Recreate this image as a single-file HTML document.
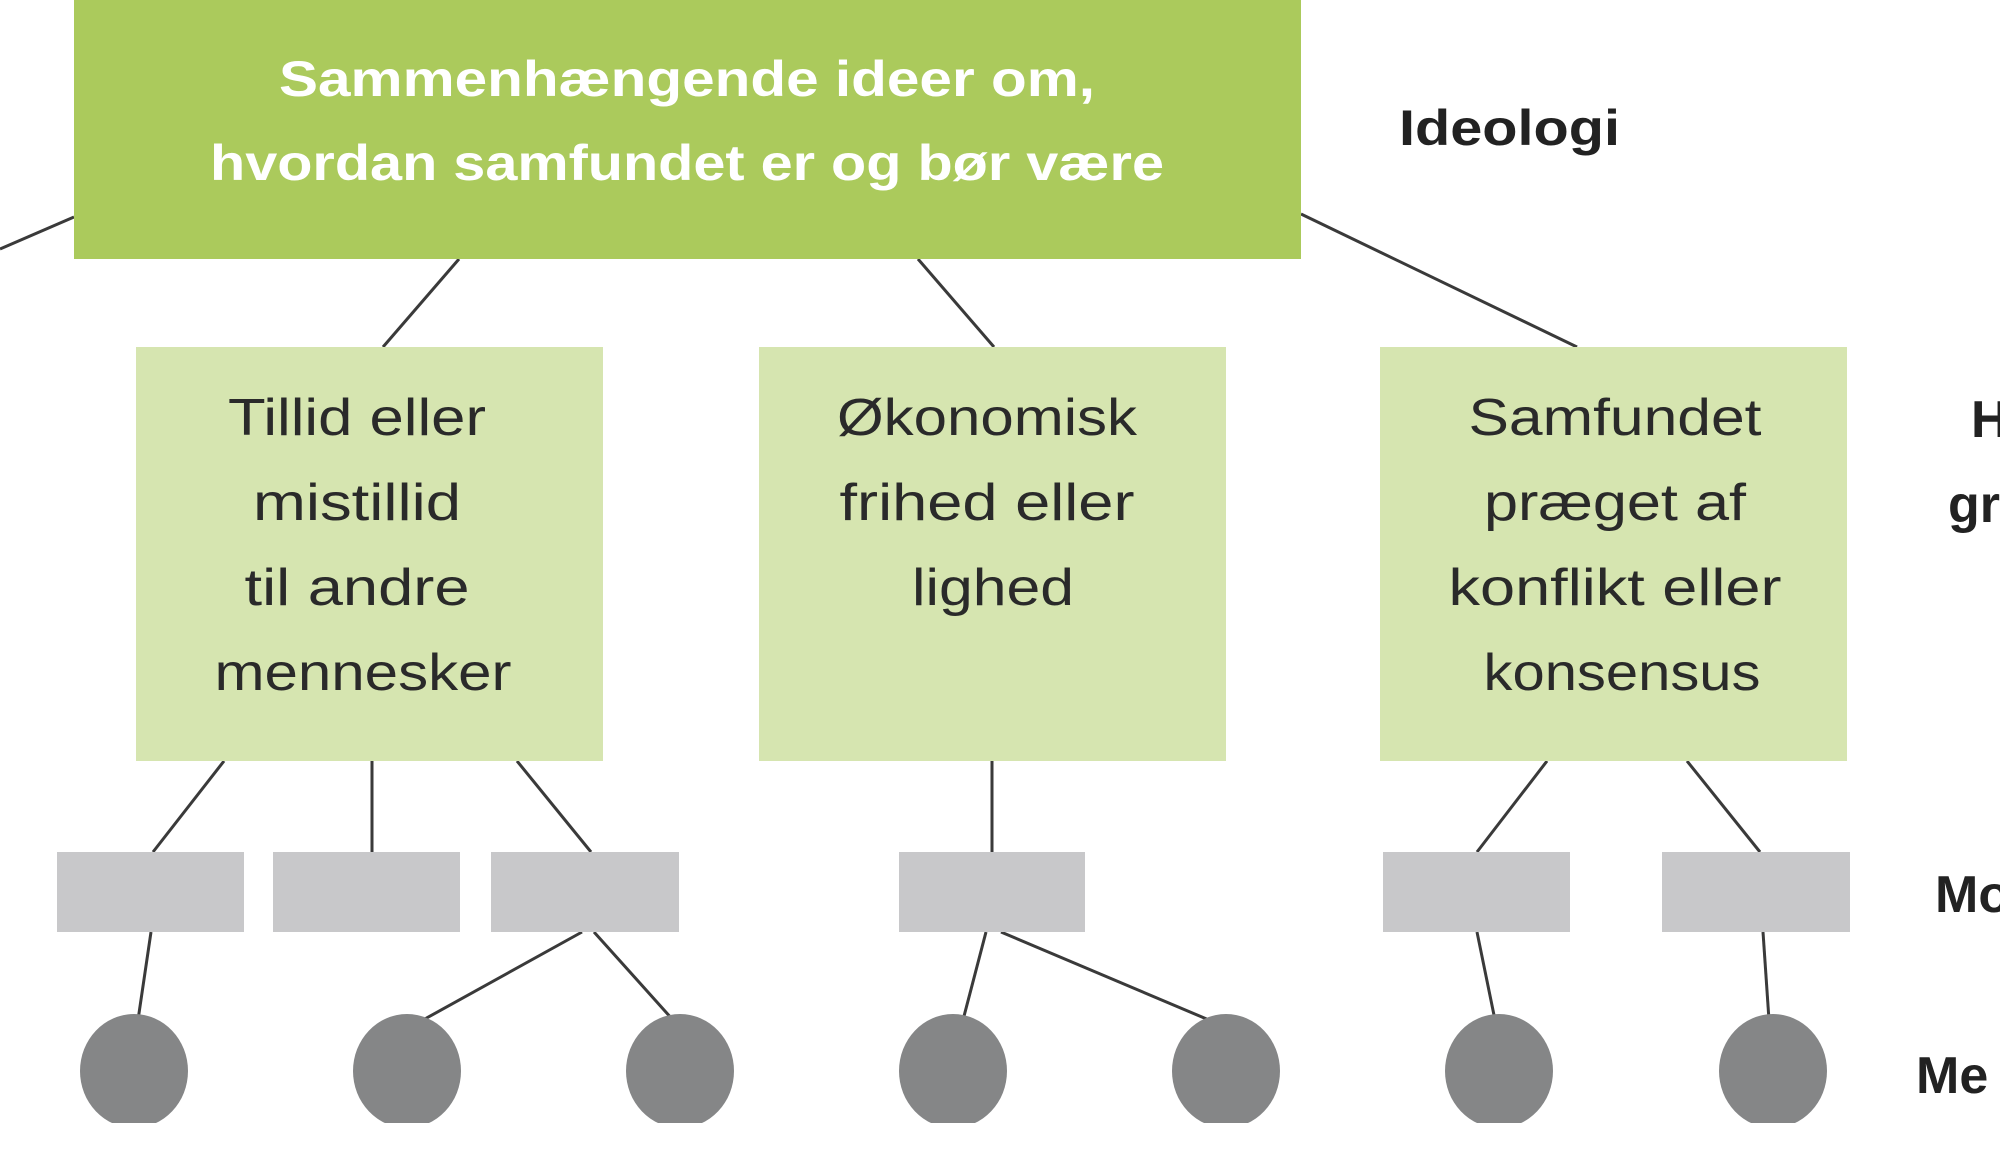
<!DOCTYPE html>
<html><head><meta charset="utf-8"><style>
html,body{margin:0;padding:0;background:#fff;width:2000px;height:1165px;overflow:hidden}
svg{display:block}
text{font-family:"Liberation Sans",sans-serif}
</style></head><body>
<svg width="2000" height="1165" viewBox="0 0 2000 1165" xmlns="http://www.w3.org/2000/svg">
<g stroke="#3a3a3a" stroke-width="3" fill="none">
<line x1="0" y1="249" x2="74" y2="217"/>
<line x1="459" y1="259" x2="383" y2="347"/>
<line x1="918" y1="259" x2="994" y2="347"/>
<line x1="1301" y1="214" x2="1577" y2="347"/>
<line x1="224" y1="761" x2="153" y2="852"/>
<line x1="372" y1="761" x2="372" y2="852"/>
<line x1="517" y1="761" x2="591" y2="852"/>
<line x1="992" y1="761" x2="992" y2="852"/>
<line x1="1547" y1="761" x2="1477" y2="852"/>
<line x1="1687" y1="761" x2="1760" y2="852"/>
<line x1="151" y1="932" x2="138" y2="1020"/>
<line x1="582" y1="932" x2="423" y2="1020"/>
<line x1="594" y1="932" x2="673" y2="1020"/>
<line x1="986" y1="932" x2="963" y2="1020"/>
<line x1="1001" y1="932" x2="1209" y2="1020"/>
<line x1="1477" y1="932" x2="1495" y2="1020"/>
<line x1="1763" y1="932" x2="1769" y2="1020"/>
</g>
<rect x="74" y="0" width="1227" height="259" fill="#abca5c"/>
<text x="687" y="96" font-size="50" font-weight="bold" fill="#fff" text-anchor="middle" textLength="816" lengthAdjust="spacingAndGlyphs">Sammenhængende ideer om,</text>
<text x="687" y="180" font-size="50" font-weight="bold" fill="#fff" text-anchor="middle" textLength="954" lengthAdjust="spacingAndGlyphs">hvordan samfundet er og bør være</text>
<text x="1399" y="145" font-size="50" font-weight="bold" fill="#222" textLength="221" lengthAdjust="spacingAndGlyphs">Ideologi</text>
<g fill="#d6e5b0">
<rect x="136" y="347" width="467" height="414"/>
<rect x="759" y="347" width="467" height="414"/>
<rect x="1380" y="347" width="467" height="414"/>
</g>
<g font-size="52" fill="#2a2a2a" text-anchor="middle">
<text x="357" y="435" textLength="258" lengthAdjust="spacingAndGlyphs">Tillid eller</text>
<text x="357" y="520" textLength="208" lengthAdjust="spacingAndGlyphs">mistillid</text>
<text x="357" y="605" textLength="225" lengthAdjust="spacingAndGlyphs">til andre</text>
<text x="363" y="690" textLength="297" lengthAdjust="spacingAndGlyphs">mennesker</text>
<text x="987" y="435" textLength="300" lengthAdjust="spacingAndGlyphs">Økonomisk</text>
<text x="987" y="520" textLength="295" lengthAdjust="spacingAndGlyphs">frihed eller</text>
<text x="993" y="605" textLength="162" lengthAdjust="spacingAndGlyphs">lighed</text>
<text x="1615" y="435" textLength="293" lengthAdjust="spacingAndGlyphs">Samfundet</text>
<text x="1615" y="520" textLength="262" lengthAdjust="spacingAndGlyphs">præget af</text>
<text x="1615" y="605" textLength="333" lengthAdjust="spacingAndGlyphs">konflikt eller</text>
<text x="1622" y="690" textLength="277" lengthAdjust="spacingAndGlyphs">konsensus</text>
</g>
<g fill="#c8c8ca">
<rect x="57" y="852" width="187" height="80"/>
<rect x="273" y="852" width="187" height="80"/>
<rect x="491" y="852" width="188" height="80"/>
<rect x="899" y="852" width="186" height="80"/>
<rect x="1383" y="852" width="187" height="80"/>
<rect x="1662" y="852" width="188" height="80"/>
</g>
<g fill="#858687">
<ellipse cx="134" cy="1071" rx="54" ry="57"/>
<ellipse cx="407" cy="1071" rx="54" ry="57"/>
<ellipse cx="680" cy="1071" rx="54" ry="57"/>
<ellipse cx="953" cy="1071" rx="54" ry="57"/>
<ellipse cx="1226" cy="1071" rx="54" ry="57"/>
<ellipse cx="1499" cy="1071" rx="54" ry="57"/>
<ellipse cx="1773" cy="1071" rx="54" ry="57"/>
</g>
<rect x="0" y="1123" width="2000" height="42" fill="#fff"/>
<g font-size="52" font-weight="bold" fill="#222">
<text x="1971" y="437">H</text>
<text x="1948" y="522">gr</text>
<text x="1935" y="912">Mo</text>
<text x="1916" y="1093">Me</text>
</g>
</svg>
</body></html>
